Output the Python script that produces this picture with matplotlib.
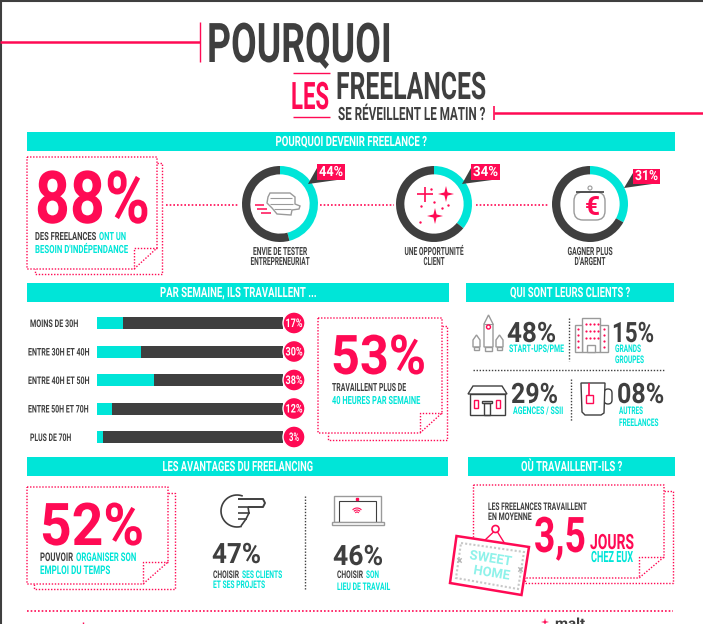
import matplotlib
matplotlib.use("Agg")
import matplotlib.pyplot as plt
import numpy as np
from matplotlib.patches import Circle, Polygon, Rectangle, FancyBboxPatch
from matplotlib.patheffects import AbstractPathEffect
from matplotlib.transforms import Affine2D

PINK = "#ff0a54"
CYAN = "#00e5d8"
DARK = "#3f3f3f"
GREY = "#9a9a9a"

reason_values = [44, 34, 31]
reason_drawn = [46, 36, 33]
reason_centers = [280, 434, 590]
reason_lines = [["ENVIE DE TESTER", "ENTREPRENEURIAT"], ["UNE OPPORTUNITÉ", "CLIENT"], ["GAGNER PLUS", "D'ARGENT"]]
reason_widths = [[54, 59], [59, 21], [45, 31]]

hour_labels = ["MOINS DE 30H", "ENTRE 30H ET 40H", "ENTRE 40H ET 50H", "ENTRE 50H ET 70H", "PLUS DE 70H"]
hour_values = [17, 30, 38, 12, 3]
hour_fill = [14, 23.7, 30.6, 8, 3.2]   # length of the cyan part as drawn in the picture
hour_label_x = [(30, 78), (28, 89), (28, 89), (28, 88), (30, 71)]

fig = plt.figure(figsize=(7.03, 6.24), dpi=100)
ax = fig.add_axes([0, 0, 1, 1], zorder=5)
ax.set_xlim(0, 703)
ax.set_ylim(624, 0)
ax.axis("off")
ax.patch.set_visible(False)
renderer = fig.canvas.get_renderer()


class Tall(AbstractPathEffect):
    # the reference font is very condensed: size the text by width, then stretch it up
    def __init__(self, sy):
        self.sy = sy

    def draw_path(self, renderer, gc, tpath, affine, rgbFace=None):
        renderer.draw_path(gc, tpath, Affine2D().scale(1, self.sy) + affine, rgbFace)


def fit(x0, x1, base, s, cap, color=DARK, weight="bold", rotation=0, z=10):
    size = cap * 1.01
    t = ax.text(x0, base, s, color=color, fontsize=size, family="Roboto",
                weight=weight, ha="left", va="baseline", zorder=z)
    ratio = t.get_window_extent(renderer).width / (x1 - x0)
    t.set_fontsize(size / ratio)
    t.set_path_effects([Tall(ratio)])
    t.set_rotation(rotation)
    t.set_rotation_mode("anchor")
    return t


def centered(cx, width, base, s, cap, color=DARK, weight="bold"):
    return fit(cx - width / 2, cx + width / 2, base, s, cap, color, weight)


def line(xs, ys, color=PINK, lw=1.0, z=6):
    ax.plot(xs, ys, color=color, lw=lw, solid_capstyle="butt", zorder=z)


def dots(xs, ys, color=PINK, lw=1.0):
    ax.plot(xs, ys, color=color, lw=lw, ls=(0, (1, 1.2)))


def shape(points, fc="white", ec=GREY, lw=1.0, z=6):
    ax.add_patch(Polygon(points, fc=fc, ec=ec, lw=lw, zorder=z))


def box(x, y, w, h, fc="white", ec=GREY, lw=1.0, z=6):
    ax.add_patch(Rectangle((x, y), w, h, fc=fc, ec=ec, lw=lw, zorder=z))


def banner(x0, x1, y0, y1, s, tw):
    box(x0, y0, x1 - x0, y1 - y0, CYAN, "none", 0, 2)
    centered((x0 + x1) / 2, tw, y1 - 5, s, 10, "white")


def note(x0, y0, x1, y1, fx, fy, bx, by, bl):
    # dotted sheet with its folded corner and the shifted sheet behind it
    dots([x0, x1, x1, fx, x0, x0], [y0, y0, fy, y1, y1, y0])
    dots([x1, fx, fx], [fy, fy, y1])
    dots([x1, bx, bx, bl, bl], [y0 + (by - y1) + 1, y0 + (by - y1) + 1, by, by, y1])


def px_axes(x0, y0, x1, y1):
    a = fig.add_axes([x0 / 703, 1 - y1 / 624, (x1 - x0) / 703, (y1 - y0) / 624], zorder=1)
    a.patch.set_visible(False)
    return a


def star(cx, cy, r, color=PINK):
    angs = np.arange(8) * np.pi / 4
    rad = np.where(np.arange(8) % 2 == 0, r, r * 0.28)
    shape(np.c_[cx + rad * np.sin(angs), cy - rad * np.cos(angs)], color, "none", 0)


# frame of the screenshot
line([0, 703], [0.5, 0.5], DARK, 1.5)
line([0.5, 0.5], [0, 624], DARK, 1.5)

# title
line([0, 200], [42, 42], PINK, 1.8)
line([200, 200], [22, 62], PINK, 1)
fit(207, 392, 62, "POURQUOI", 39, DARK)
line([293, 330], [73, 73], PINK, 1)
line([293, 330], [117, 117], PINK, 1)
fit(291, 329, 109, "LES", 27, PINK)
fit(336, 486, 99, "FREELANCES", 27, DARK)
fit(338, 485, 120, "SE RÉVEILLENT LE MATIN ?", 13, DARK)
line([494, 494], [106, 120], PINK, 1.2)
line([494, 703], [113, 113], PINK, 1.8)

banner(27, 675, 132, 151, "POURQUOI DEVENIR FREELANCE ?", 151)
banner(27, 449, 283, 302, "PAR SEMAINE, ILS TRAVAILLENT ...", 156)
banner(466, 674, 283, 302, "QUI SONT LEURS CLIENTS ?", 120)
banner(27, 448, 457, 476, "LES AVANTAGES DU FREELANCING", 150)
banner(468, 675, 457, 476, "OÙ TRAVAILLENT-ILS ?", 101)

# 88 %
note(27, 157, 157, 269, 134, 248, 162, 274, 35)
fit(35, 150, 223, "88%", 52, PINK)
fit(35, 96, 240, "DES FREELANCES", 8, DARK)
fit(99, 126, 240, "ONT UN", 8, CYAN)
fit(35, 128, 253, "BESOIN D'INDÉPENDANCE", 8, CYAN)

for xs in [(166, 238), (320, 394), (476, 548)]:
    dots(xs, [205, 205], PINK, 1.2)

# donuts
for cx, val, lines, widths in zip(reason_centers, reason_drawn, reason_lines, reason_widths):
    a = px_axes(cx - 38, 166, cx + 38, 242)
    a.pie([val, 100 - val], colors=[CYAN, DARK], startangle=90, counterclock=False, radius=1.0,
          wedgeprops={"width": 0.22, "linewidth": 0})
    a.set_xlim(-1, 1)
    a.set_ylim(-1, 1)
    for k, (s, w) in enumerate(zip(lines, widths)):
        centered(cx, w, 255 + 10 * k, s, 8, DARK)

tag_boxes = [(317, 345, 164, 180), (471, 500, 164, 180), (633, 660, 169, 184)]
for (x0, x1, y0, y1), val in zip(tag_boxes, reason_values):
    shape([(x0, y0 + 4), (x0 - 9, y1 + 4), (x1 - 8, y1), (x0, y1)], DARK, "none", 0)
    box(x0, y0, x1 - x0, y1 - y0, PINK, "none", 0, 7)
    fit(x0 + 2, x1 - 2, y1 - 4, f"{val}%", 10, "white")

# wings icon
shape([(268, 197), (270, 193), (290, 193), (295, 197), (295, 204), (300, 206), (299, 209), (292, 210),
       (291, 215), (277, 214), (272, 208), (267, 203)], lw=1)
line([270, 292], [198, 198], GREY, 0.8)
line([270, 293], [204, 204], GREY, 0.8)
line([274, 291], [209, 209], GREY, 0.8)
for x0, x1, y in [(255, 264, 205), (257, 267, 209), (261, 271, 213)]:
    line([x0, x1], [y, y], PINK, 1.1)

# sparkles icon
star(446, 194, 8)
star(435, 216, 8)
line([417, 433], [194, 194], PINK, 1.2)
line([425, 425], [187, 202], PINK, 1.2)
ax.scatter([420, 434, 442, 421, 448, 431], [222, 202, 208, 206, 205, 189], s=3, color=PINK, linewidths=0, zorder=6)

# purse icon
ax.add_patch(FancyBboxPatch((574, 192), 31, 28, boxstyle="round,pad=0,rounding_size=9", fc="white", ec=GREY, lw=1, zorder=6))
line([576, 604], [192, 192], DARK, 1.2)
ax.add_patch(Circle((590, 188), 2, fc="white", ec=GREY, lw=0.8, zorder=6))
ax.text(585, 215, "€", color=PINK, fontsize=19, family="Roboto", weight="bold", zorder=10)

# bars
bar_ax = px_axes(97, 316.0, 283, 444.5)
pos = np.arange(len(hour_values))
fill = np.array(hour_fill)
bar_ax.barh(pos, fill, height=0.42, color=CYAN)
bar_ax.barh(pos, 100 - fill, left=fill, height=0.42, color=DARK)
bar_ax.set_xlim(0, 100)
bar_ax.set_ylim(4.25, -0.25)
bar_ax.axis("off")
for k, (lab, val, xs) in enumerate(zip(hour_labels, hour_values, hour_label_x)):
    y = 323 + 28.5 * k
    fit(xs[0], xs[1], y + 4, lab, 7.5, DARK)
    ax.add_patch(Circle((294, y), 11, fc=PINK, ec="white", lw=1, zorder=7))
    w = 17 if val >= 10 else 10
    centered(294, w, y + 4, f"{val}%", 8.5, "white")

# 53 %
note(318, 318, 442, 433, 420, 413, 447, 440, 328)
fit(331, 426, 374, "53%", 39, PINK)
fit(332, 406, 391, "TRAVAILLENT PLUS DE", 8, DARK)
fit(332, 420, 404, "40 HEURES PAR SEMAINE", 8, CYAN)

# clients
fit(507, 556, 342, "48%", 20, DARK)
fit(509, 564, 352, "START-UPS/PME", 7.5, CYAN)
fit(612, 654, 342, "15%", 20, DARK)
fit(615, 641, 352, "GRANDS", 7.5, CYAN)
fit(615, 644, 363, "GROUPES", 7.5, CYAN)
fit(511, 558, 403, "29%", 20, DARK)
fit(513, 563, 414, "AGENCES / SSII", 7.5, CYAN)
fit(617, 664, 403, "08%", 20, DARK)
fit(619, 643, 414, "AUTRES", 7.5, CYAN)
fit(619, 658, 426, "FREELANCES", 7.5, CYAN)
dots([569, 569], [318, 361], DARK, 1)
dots([473, 665], [370, 370], DARK, 1)
dots([571, 571], [379, 421], DARK, 1)

# rocket
for x0 in (473, 496):
    shape([(x0, 340), (x0 + 3.5, 335), (x0 + 7, 340), (x0 + 7, 347), (x0, 347)], z=6)
    box(x0 + 1, 347, 5, 3, z=6)
shape([(484, 324), (488.5, 315), (493, 324), (493, 347), (484, 347)], z=7)
box(485, 347, 7, 4, z=6)
line([484, 493], [324, 324], GREY, 0.8, 8)
ax.add_patch(Circle((488.5, 327), 2, fc="none", ec=PINK, lw=1, zorder=8))
# building
box(582, 318, 18, 34)
box(575, 325, 7, 27)
box(600, 325, 8, 27)
box(587, 345, 8, 7, z=7)
bx, by = np.meshgrid([586, 590, 594, 598], [324, 331, 338])
ax.scatter(bx.ravel(), by.ravel(), s=2.5, color=PINK, linewidths=0, zorder=7)
ax.scatter([578] * 4 + [604] * 4, [329, 335, 341, 347] * 2, s=2.5, color=PINK, linewidths=0, zorder=7)
# house
box(470, 394, 35, 21, ec=DARK)
shape([(468, 394), (473, 386), (502, 386), (507, 394)], ec=DARK)
box(474, 400, 4, 8, "none", PINK, z=7)
box(496, 400, 4, 8, "none", PINK, z=7)
box(484, 403, 6, 12, "none", DARK, z=7)
box(482, 401, 10, 2, "none", DARK, z=7)
# mug
ax.add_patch(FancyBboxPatch((604, 389), 8, 15, boxstyle="round,pad=0,rounding_size=4", fc="none", ec=DARK, lw=1, zorder=5))
shape([(581, 383), (605, 383), (604, 413), (601, 415), (585, 415), (582, 412)], ec=DARK)
line([589, 589], [383, 395], PINK, 1.2)
box(585.5, 395, 7, 8, "white", PINK, z=7)

# 52 %
note(27, 487, 168, 584, 143, 562, 175, 589, 34)
fit(40, 144, 545, "52%", 42, PINK)
fit(40, 73, 561, "POUVOIR", 8.5, DARK)
fit(76, 136, 561, "ORGANISER SON", 8.5, CYAN)
fit(40, 110, 574, "EMPLOI DU TEMPS", 8.5, CYAN)

# hand
th = np.linspace(np.pi * 0.42, np.pi * 1.6, 30)
ax.plot(237 + 16 * np.cos(th), 511 + 16 * np.sin(th), color=DARK, lw=1.2, zorder=6)
line([238, 263, 265, 263, 248], [499, 499, 503, 507, 507], DARK, 1.4)
line([248, 249, 246, 241], [507, 513, 519, 526], DARK, 1.2)
for y, x1 in [(507, 248), (513, 250), (519, 247)]:
    line([238, x1], [y, y], DARK, 1.2)

fit(212, 261, 563, "47%", 20, DARK)
fit(213, 239, 578, "CHOISIR", 7.5, DARK)
fit(242, 282, 578, "SES CLIENTS", 7.5, CYAN)
fit(213, 265, 588, "ET SES PROJETS", 7.5, CYAN)
dots([304.5, 304.5], [496, 590], DARK, 1)

# laptop
box(334, 495.5, 47, 26)
box(339, 501, 37, 20.5, ec=DARK, lw=0.8)
box(332, 521.5, 52, 3)
ax.plot([357], [498.5], marker="s", ms=1.5, color=PINK, zorder=7)
for r in (2, 4, 6):
    th = np.linspace(-2.3, -0.84, 14)
    ax.plot(357 + r * np.cos(th), 514 + r * np.sin(th), color=PINK, lw=0.8, zorder=7)
fit(333, 383, 565, "46%", 20, DARK)
fit(337, 363, 578, "CHOISIR", 7.5, DARK)
fit(366, 379, 578, "SON", 7.5, CYAN)
fit(337, 390, 590, "LIEU DE TRAVAIL", 7.5, CYAN)

# 3,5 jours
note(473.5, 485, 664, 578, 639, 557, 673, 583, 525)
fit(488, 586, 510, "LES FREELANCES TRAVAILLENT", 7.5, DARK)
fit(488, 531, 520, "EN MOYENNE", 7.5, DARK)
fit(534, 586, 552, "3,5", 35, PINK)
fit(590, 634, 549, "JOURS", 15, PINK)
fit(591, 633, 562, "CHEZ EUX", 11, CYAN)

# sign
shape([(456.5, 536), (529, 547), (521.5, 595), (450, 583)], "white", PINK, 1.8, 8)
shape([(461, 543), (524, 552), (518, 589), (456, 578)], "none", "#c8c8c8", 1.5, 9)
ax.patches[-1].set_linestyle((0, (1, 1)))
ax.scatter([459, 520], [560, 569], marker="x", s=10, color="#b5b5b5", linewidths=1, zorder=10)
ax.add_patch(Circle((495.5, 529), 3.5, fc="white", ec=PINK, lw=1.2, zorder=9))
line([484, 493.5], [541, 532], PINK, 1)
line([497.5, 505], [532, 544], PINK, 1)
fit(469, 512, 559, "SWEET", 9.5, "#8ff2ea", rotation=-9, z=11)
fit(473, 510, 574, "HOME", 9.5, "#8ff2ea", rotation=-9, z=11)

# footer
dots([27, 673], [611, 611], PINK, 1.2)
star(545, 622, 4)
fit(555, 585, 628, "malt", 10, DARK)
line([83, 83], [622, 624], PINK, 1)

fig.savefig("out.png", dpi=100)
